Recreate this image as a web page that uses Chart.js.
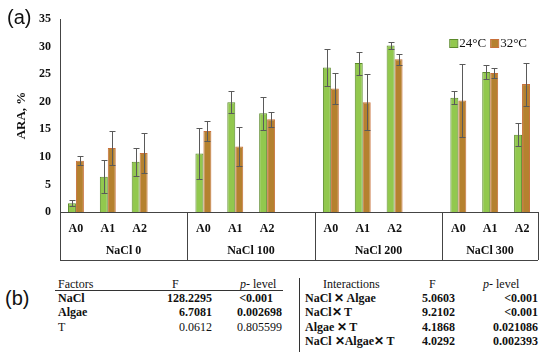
<!DOCTYPE html>
<html>
<head>
<meta charset="utf-8">
<script src="https://cdn.jsdelivr.net/npm/chart.js@4"></script>
<style>
  body { margin: 0; background: #fff; width: 550px; height: 357px; position: relative; overflow: hidden; }
  #wrap { position: absolute; left: 0; top: 0; width: 550px; height: 265px; }
  .lbl { position: absolute; font-family: "Liberation Sans", Arial, sans-serif; font-size: 20px; color: #111; }
  .t { position: absolute; font-family: "Liberation Serif", serif; font-size: 12px; color: #111; white-space: nowrap; line-height: 14px; }
  .b { font-weight: bold; }
</style>
</head>
<body>
<div id="wrap"><canvas id="graphe" width="550" height="265"></canvas></div>
<div class="lbl" style="left:7px;top:6px">(a)</div>
<div class="lbl" style="left:5px;top:287px">(b)</div>
<div id="tableau"></div>
<script>
// 15 créneaux : 3 algues par groupe + un créneau vide entre les groupes
var algues   = ["A0", "A1", "A2", "", "A0", "A1", "A2", "", "A0", "A1", "A2", "", "A0", "A1", "A2"];
var groupes  = ["NaCl 0", "NaCl 100", "NaCl 200", "NaCl 300"];
var series   = ["24°C", "32°C"];

var ara24    = [1.6, 6.4, 9.1, null, 10.6, 19.9, 17.9, null, 26.2, 27.0, 30.2, null, 20.7, 25.4, 14.0];
var err24    = [0.5, 3.0, 2.5, null, 4.6, 2.0, 3.0, null, 3.3, 2.1, 0.6, null, 1.2, 1.3, 2.1];
var ara32    = [9.3, 11.6, 10.7, null, 14.7, 11.9, 16.8, null, 22.4, 19.9, 27.7, null, 20.2, 25.2, 23.2];
var err32    = [0.8, 3.1, 3.6, null, 1.8, 3.6, 1.4, null, 2.8, 5.1, 1.0, null, 6.6, 0.9, 3.9];

var facteurs      = ["NaCl", "Algae", "T"];
var facteursF     = ["128.2295", "6.7081", "0.0612"];
var facteursP     = ["<0.001", "0.002698", "0.805599"];
var interactions  = ["NaCl\u2009\u2715\u2009Algae", "NaCl\u2715\u2009T", "Algae\u2009\u2715\u2009T", "NaCl \u2715Algae\u2715\u2009T"];
var interactionsF = ["5.0603", "9.2102", "4.1868", "4.0292"];
var interactionsP = ["<0.001", "<0.001", "0.021086", "0.002393"];

var police = "'Liberation Serif', serif";

// tableau (b)
function texte(t, x, y, cls, droite) {
  var s = droite ? "right:" + (550 - x) + "px;" : "left:" + x + "px;";
  return "<div class='t " + (cls || "") + "' style='" + s + "top:" + (y - 7) + "px'>" + t + "</div>";
}
var html = "";
html += texte("Factors", 58, 284);
html += texte("F", 172, 284);
html += texte("<i>p</i>- level", 240, 284);
html += texte("Interactions", 323, 284);
html += texte("F", 429, 284);
html += texte("<i>p</i>- level", 483, 284);
var lignesY = [298, 312, 327, 341];
facteurs.forEach(function(f, i) {
  var gras = i < 2 ? "b" : "";
  html += texte(f, 58, lignesY[i], gras);
  html += texte(facteursF[i], 212, lignesY[i], gras, true);
  html += texte(facteursP[i], i === 0 ? 273 : 282, lignesY[i], gras, true);
});
interactions.forEach(function(f, i) {
  html += texte(f, 305, lignesY[i], "b");
  html += texte(interactionsF[i], 455, lignesY[i], "b", true);
  html += texte(interactionsP[i], 538, lignesY[i], "b", true);
});
html += "<div style='position:absolute;left:55px;top:290px;width:228px;height:1px;background:#333'></div>";
html += "<div style='position:absolute;left:299px;top:278px;width:1px;height:74px;background:#333'></div>";
document.getElementById("tableau").innerHTML = html;

var barresErreur = {
  id: "barresErreur",
  afterDatasetsDraw: function(chart) {
    var ctx = chart.ctx;
    var y = chart.scales.y;
    var erreurs = [err24, err32];
    ctx.save();
    ctx.strokeStyle = "#5a5a5a";
    ctx.lineWidth = 1;
    chart.data.datasets.forEach(function(ds, d) {
      var meta = chart.getDatasetMeta(d);
      meta.data.forEach(function(bar, i) {
        var v = ds.data[i];
        var e = erreurs[d][i];
        if (v === null || e === null) return;
        var x = Math.round(bar.x) + 0.5;
        var haut = Math.round(y.getPixelForValue(v + e)) + 0.5;
        var bas  = Math.round(y.getPixelForValue(v - e)) + 0.5;
        ctx.beginPath();
        ctx.moveTo(x, haut); ctx.lineTo(x, bas);
        ctx.moveTo(x - 3, haut); ctx.lineTo(x + 3, haut);
        ctx.moveTo(x - 3, bas); ctx.lineTo(x + 3, bas);
        ctx.stroke();
      });
    });
    ctx.restore();
  }
};

var axeGroupes = {
  id: "axeGroupes",
  afterDraw: function(chart) {
    var ctx = chart.ctx;
    var x = chart.scales.x;
    var haut = chart.chartArea.bottom;
    var bas = haut + 48;
    var demi = (x.getPixelForValue(1) - x.getPixelForValue(0)) / 2;
    var limites = [x.left];
    for (var g = 1; g < groupes.length; g++) {
      limites.push(Math.round(x.getPixelForValue(g * 4 - 1) + demi));
    }
    limites.push(x.right);
    ctx.save();
    ctx.strokeStyle = "#444";
    ctx.lineWidth = 1;
    ctx.beginPath();
    limites.forEach(function(p) {
      ctx.moveTo(Math.round(p) + 0.5, haut);
      ctx.lineTo(Math.round(p) + 0.5, bas);
    });
    ctx.moveTo(x.left, bas + 0.5);
    ctx.lineTo(x.right, bas + 0.5);
    ctx.stroke();
    ctx.fillStyle = "#111";
    ctx.font = "bold 12px " + police;
    ctx.textAlign = "center";
    ctx.textBaseline = "middle";
    groupes.forEach(function(nom, g) {
      ctx.fillText(nom, (limites[g] + limites[g + 1]) / 2, bas - 9);
    });
    ctx.restore();
  }
};

// légende dessinée à droite, en haut de la zone du graphique
var legende = {
  id: "legende",
  afterDraw: function(chart) {
    var ctx = chart.ctx;
    var droite = 527, yc = 43.5;
    ctx.save();
    ctx.font = "13px " + police;
    ctx.textBaseline = "middle";
    var items = chart.data.datasets.slice().reverse();
    items.forEach(function(ds) {
      var w = ctx.measureText(ds.label).width;
      var xt = droite - w;
      ctx.fillStyle = "#111";
      ctx.fillText(ds.label, xt, yc);
      ctx.fillStyle = ds.backgroundColor;
      ctx.fillRect(xt - 9, yc - 3.5, 7, 7);
      ctx.strokeStyle = ds.borderColor;
      ctx.lineWidth = 1;
      ctx.strokeRect(xt - 9.5, yc - 4, 8, 8);
      droite = xt - 14;
    });
    ctx.restore();
  }
};

function dessiner() {
  new Chart(document.getElementById("graphe"), {
    type: "bar",
    data: {
      labels: algues,
      datasets: [
        { label: series[0], data: ara24, backgroundColor: "#92c84e", borderColor: "#5b8a2a", borderWidth: 1 },
        { label: series[1], data: ara32, backgroundColor: "#b5812f", borderColor: "#c8703a", borderWidth: 1 }
      ]
    },
    options: {
      responsive: false,
      animation: false,
      layout: { padding: { top: 19, right: 12, left: 0, bottom: 0 } },
      datasets: { bar: { categoryPercentage: 0.5, barPercentage: 1.0 } },
      plugins: {
        tooltip: { enabled: false },
        legend: { display: false }
      },
      scales: {
        x: {
          grid: { display: false, drawTicks: false },
          border: { color: "#444" },
          ticks: { color: "#111", padding: 10, autoSkip: false, maxRotation: 0, font: { family: police, size: 12, weight: "bold" } },
          afterFit: function(s) { s.height = 53; }
        },
        y: {
          min: 0, max: 35,
          grid: { display: false, drawOnChartArea: false, drawTicks: true, tickLength: 4, color: "#444" },
          border: { color: "#444" },
          ticks: { stepSize: 5, color: "#111", padding: 5, font: { family: police, size: 12, weight: "bold" } },
          title: { display: true, text: "ARA, %", color: "#111", padding: { top: 14, bottom: 0 }, font: { family: police, size: 13, weight: "bold" } },
          afterFit: function(s) { s.width = 60; }
        }
      }
    },
    plugins: [barresErreur, axeGroupes, legende]
  });
}

if (document.fonts && document.fonts.ready) {
  document.fonts.load("bold 12px 'Liberation Serif'").then(function() { return document.fonts.ready; }).then(dessiner, dessiner);
} else {
  dessiner();
}
</script>
</body>
</html>
